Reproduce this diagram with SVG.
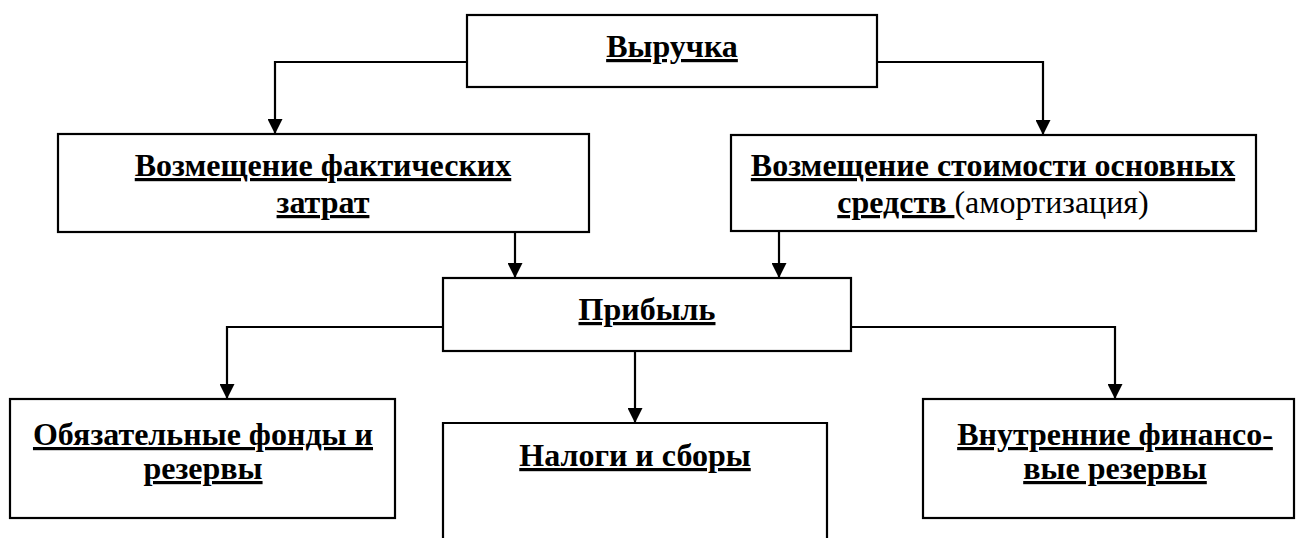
<svg xmlns="http://www.w3.org/2000/svg" width="1297" height="538" viewBox="0 0 1297 538">
<defs>
<marker id="ah" markerWidth="15" markerHeight="15" refX="15" refY="7.5" orient="auto" markerUnits="userSpaceOnUse">
<path d="M0,0 L15,7.5 L0,15 Z" fill="#000"/>
</marker>
<style>
.box{fill:#fff;stroke:#000;stroke-width:2.2}
.t{font-family:'Liberation Serif','Times New Roman',serif;font-size:32px;fill:#000;text-anchor:middle}
.b{font-weight:bold;text-decoration:underline;text-decoration-thickness:3px}
.n{font-weight:normal;text-decoration:none}
.c{fill:none;stroke:#000;stroke-width:2.2}
</style>
</defs>
<rect width="1297" height="538" fill="#fff"/>
<g id="connectors">
<path class="c" d="M467,62 H275 V134" marker-end="url(#ah)"/>
<path class="c" d="M877,62 H1043 V135" marker-end="url(#ah)"/>
<path class="c" d="M515,232 V278" marker-end="url(#ah)"/>
<path class="c" d="M779,231 V278" marker-end="url(#ah)"/>
<path class="c" d="M443,327 H227 V399" marker-end="url(#ah)"/>
<path class="c" d="M851,327 H1115 V399" marker-end="url(#ah)"/>
<path class="c" d="M635,351 V423" marker-end="url(#ah)"/>
</g>
<g id="n-revenue">
<rect class="box" x="467" y="15" width="410" height="72"/>
<text class="t b" x="672" y="57">Выручка</text>
</g>
<g id="n-costs">
<rect class="box" x="58" y="134" width="531" height="98"/>
<text class="t b" x="323" y="176">Возмещение фактических</text>
<text class="t b" x="323" y="213">затрат</text>
</g>
<g id="n-depreciation">
<rect class="box" x="731" y="135" width="525" height="96"/>
<text class="t b" x="993" y="176">Возмещение стоимости основных</text>
<text class="t" x="993" y="213"><tspan class="b">средств </tspan><tspan class="n">(амортизация)</tspan></text>
</g>
<g id="n-profit">
<rect class="box" x="443" y="278" width="408" height="73"/>
<text class="t b" x="647" y="320">Прибыль</text>
</g>
<g id="n-funds">
<rect class="box" x="10" y="399" width="385" height="119"/>
<text class="t b" x="203" y="445">Обязательные фонды и</text>
<text class="t b" x="203" y="479">резервы</text>
</g>
<g id="n-taxes">
<path class="box" d="M443,545 V423 H827 V545"/>
<text class="t b" x="635" y="466">Налоги и сборы</text>
</g>
<g id="n-reserves">
<rect class="box" x="923" y="399" width="371" height="119"/>
<text class="t b" x="1115" y="445">Внутренние финансо-</text>
<text class="t b" x="1115" y="479">вые резервы</text>
</g>
</svg>
